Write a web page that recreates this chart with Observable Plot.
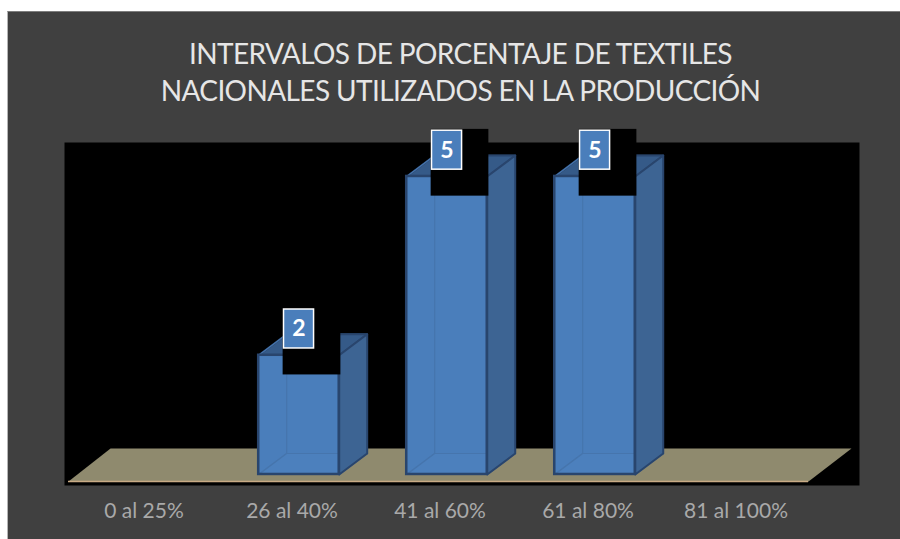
<!DOCTYPE html>
<html>
<head>
<meta charset="utf-8">
<script src="https://cdn.jsdelivr.net/npm/d3@7"></script>
<script src="https://cdn.jsdelivr.net/npm/@observablehq/plot@0.6"></script>
<style>
html,body{margin:0;padding:0;background:#fff;overflow:hidden}
#panel{position:absolute;left:7px;top:11px;width:893px;height:528px;background:#404040;border-left:1px solid #b5b5b5;border-top:1px solid #7d7d7d;box-sizing:border-box}
#title{position:absolute;left:0;top:23px;width:905px;text-align:center;color:#e6e6e6;font:28px/37px Lato,sans-serif;letter-spacing:-0.6px}
#chart{position:absolute;left:0;top:104px}
#chart svg{display:block;background:transparent}
</style>
</head>
<body>
<div id="panel">
  <div id="title">INTERVALOS DE PORCENTAJE DE TEXTILES<br>NACIONALES UTILIZADOS EN LA PRODUCCIÓN</div>
  <div id="chart"></div>
</div>
<script>
const categories = ["0 al 25%", "26 al 40%", "41 al 60%", "61 al 80%", "81 al 100%"];
const values = [0, 2, 5, 5, 0];

const halfWidth = 0.272, shift = 0.047, depthX = 0.189, depthY = 0.352;
const bars = values.map((v, i) => ({i, v})).filter(d => d.v > 0);
const L = d => d.i + shift - halfWidth, R = d => d.i + shift + halfWidth;

const face = (name, fn) => bars.flatMap(d =>
  fn(d).map(([x, y]) => ({id: name + d.i, x, y})));

const back = face("b", d => [[L(d)+depthX,depthY],[R(d)+depthX,depthY],[R(d)+depthX,d.v+depthY],[L(d)+depthX,d.v+depthY],[L(d)+depthX,depthY]]);
const base = face("f", d => [[L(d),0],[R(d),0],[R(d)+depthX,depthY],[L(d)+depthX,depthY],[L(d),0]]);
const left = face("l", d => [[L(d),0],[L(d)+depthX,depthY],[L(d)+depthX,d.v+depthY],[L(d),d.v],[L(d),0]]);
const side = face("s", d => [[R(d),0],[R(d)+depthX,depthY],[R(d)+depthX,d.v+depthY],[R(d),d.v],[R(d),0]]);
const top_ = face("t", d => [[L(d),d.v],[R(d),d.v],[R(d)+depthX,d.v+depthY],[L(d)+depthX,d.v+depthY],[L(d),d.v]]);
const floor = [[-0.51,-0.117],[4.49,-0.117],[4.78,0.436],[-0.226,0.436],[-0.51,-0.117]].map(([x,y]) => ({id:"floor",x,y}));

const poly = (data, o) => Plot.line(data, {x:"x", y:"y", z:"id", strokeLinejoin:"round", ...o});

const plot = Plot.plot({
  width: 892, height: 423,
  marginTop: 26, marginBottom: 54, marginLeft: 56, marginRight: 41,
  style: {background: "transparent"},
  x: {domain: [-0.537, 4.834], axis: null},
  y: {domain: [-0.185, 5.57], axis: null},
  marks: [
    Plot.frame({fill: "#000", stroke: "none"}),
    poly(floor, {fill: "#8f8a6e", stroke: "none"}),
    Plot.ruleY([-0.117], {x1: -0.51, x2: 4.49, stroke: "#c9ab85", strokeWidth: 1.5}),
    Plot.axisX(d3.range(categories.length), {
      tickSize: 0, tickPadding: 0, label: null,
      tickFormat: i => categories[i],
      fill: "#a9a9a9", fontSize: 21, fontFamily: "Lato, sans-serif", dy: 18
    }),
    poly(back, {fill: "#3f6a9d", stroke: "#335a8a", strokeWidth: 1.5}),
    poly(top_, {fill: "#355a88", stroke: "#29456d", strokeWidth: 2}),
    Plot.rect(bars, {x1: L, x2: R, y1: 0, y2: "v", fill: "#4a7ebb"}),
    poly(left, {stroke: "#4675ad", strokeWidth: 1.2, fill: "none"}),
    poly(base, {fill: "#4c80bd", stroke: "#4675ad", strokeWidth: 1.2}),
    poly(side, {fill: "#3d6493", stroke: "#29456d", strokeWidth: 2}),
    Plot.rect(bars, {x1: L, x2: R, y1: 0, y2: "v", fill: "none", stroke: "#29456d", strokeWidth: 2.5}),
    Plot.rect(bars, {x1: d => d.i - 0.06, x2: d => d.i + 0.33, y1: d => d.v - 0.33, y2: d => d.v + 0.79, fill: "#000"}),
    Plot.rect(bars, {x1: d => d.i - 0.054, x2: d => d.i + 0.149, y1: d => d.v + 0.114, y2: d => d.v + 0.768, fill: "#4a7ebb", stroke: "#fff", strokeWidth: 1.5}),
    Plot.text(bars, {x: d => d.i + 0.047, y: d => d.v + 0.44, text: d => String(d.v), fill: "#fff", fontSize: 23, fontWeight: "bold", fontFamily: "Lato, sans-serif"})
  ]
});
document.getElementById("chart").appendChild(plot);
</script>
</body>
</html>
